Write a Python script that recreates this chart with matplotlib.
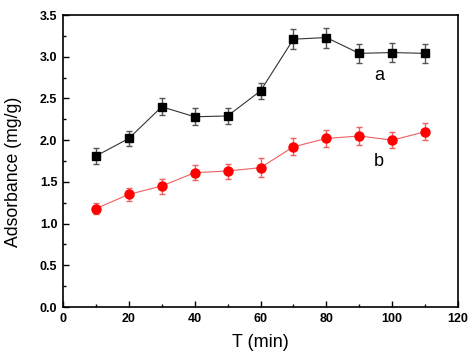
import numpy as np
import matplotlib
matplotlib.use("Agg")
import matplotlib.pyplot as plt
from matplotlib.ticker import MultipleLocator

t = [10, 20, 30, 40, 50, 60, 70, 80, 90, 100, 110]
ads_a = [1.81, 2.02, 2.40, 2.28, 2.29, 2.59, 3.21, 3.23, 3.04, 3.05, 3.04]
err_a = [0.09, 0.09, 0.10, 0.10, 0.10, 0.10, 0.12, 0.12, 0.11, 0.11, 0.11]
ads_b = [1.18, 1.35, 1.45, 1.61, 1.63, 1.67, 1.92, 2.02, 2.05, 2.00, 2.10]
err_b = [0.07, 0.08, 0.09, 0.09, 0.09, 0.11, 0.10, 0.10, 0.11, 0.10, 0.10]

plt.rcParams['font.family'] = ['Liberation Sans', 'DejaVu Sans']

fig = plt.figure(figsize=(4.72, 3.56), dpi=100)
ax = fig.add_axes([63 / 472, 1 - 307 / 356, (458 - 63) / 472, (307 - 15) / 356])

# serie a
ax.errorbar(t, ads_a, yerr=err_a, fmt='none', ecolor='#555555', elinewidth=1.0, capsize=2.5, capthick=1.0)
ax.plot(t, ads_a, color='#333333', lw=0.8, marker='s', ms=6, mfc='black', mec='black')
# serie b
ax.errorbar(t, ads_b, yerr=err_b, fmt='none', ecolor='#f06060', elinewidth=1.0, capsize=2.5, capthick=1.0)
ax.plot(t, ads_b, color='#f06060', lw=0.8, marker='o', ms=6.5, mfc='red', mec='red')

ax.text(96, 2.78, 'a', fontsize=13, ha='center', va='center')
ax.text(96, 1.74, 'b', fontsize=13, ha='center', va='center')

ax.set_xlim(0, 120)
ax.set_ylim(0, 3.5)
ax.xaxis.set_major_locator(MultipleLocator(20))
ax.xaxis.set_minor_locator(MultipleLocator(10))
ax.yaxis.set_major_locator(MultipleLocator(0.5))
ax.yaxis.set_minor_locator(MultipleLocator(0.25))
ax.yaxis.set_major_formatter(matplotlib.ticker.FormatStrFormatter('%.1f'))
ax.tick_params(which='both', direction='in', labelsize=9, width=1, pad=4)
ax.tick_params(which='major', length=4)
ax.tick_params(which='minor', length=2.5)
for lab in ax.get_xticklabels() + ax.get_yticklabels():
    lab.set_fontweight('semibold')
for s in ax.spines.values():
    s.set_linewidth(1.2)

ax.set_xlabel('T (min)', fontsize=13, labelpad=7)
ax.set_ylabel('Adsorbance (mg/g)', fontsize=12.7)
ax.yaxis.set_label_coords(-0.103, 0.462)

fig.savefig('out.png', dpi=100)
